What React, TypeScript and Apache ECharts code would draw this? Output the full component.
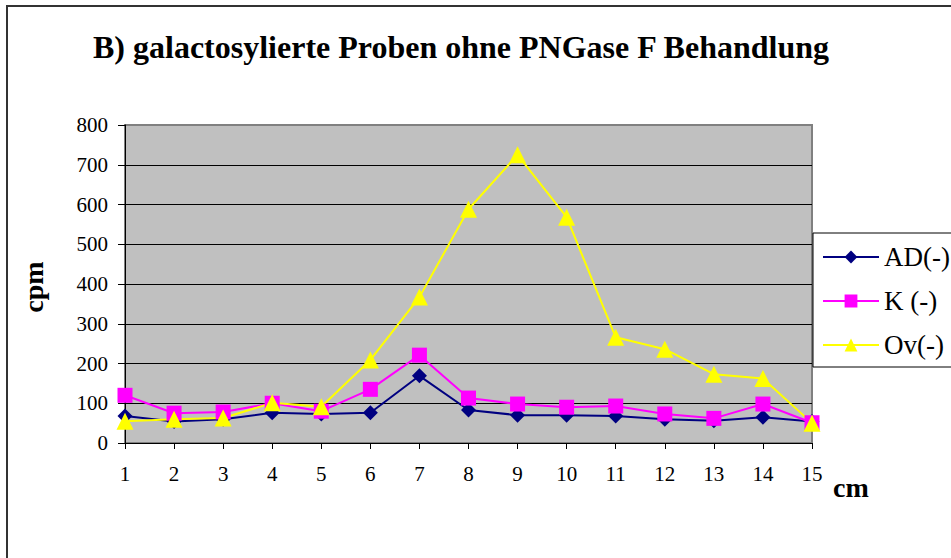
import React, { useEffect, useRef } from "react";
import * as echarts from "echarts";

const categories = ["1", "2", "3", "4", "5", "6", "7", "8", "9", "10", "11", "12", "13", "14", "15"];
const adValues = [68, 54, 60, 76, 73, 76, 169, 83, 70, 70, 68, 60, 56, 65, 54];
const kValues = [120, 75, 78, 100, 80, 135, 221, 113, 98, 90, 93, 73, 62, 98, 51];
const ovValues = [55, 60, 63, 101, 91, 209, 367, 588, 725, 568, 266, 236, 173, 162, 50];
const titleText = "B) galactosylierte Proben ohne PNGase F Behandlung";
const yName = "cpm";
const xName = "cm";

const FONT = "Liberation Serif";

export default function App() {
  const ref = useRef<HTMLDivElement>(null);
  useEffect(() => {
    if (!ref.current) return;
    const chart = echarts.init(ref.current, null, { renderer: "svg" });
    const mk = (name: string, data: number[], color: string, symbol: string, size: number) => ({
      name,
      type: "line",
      data,
      symbol,
      symbolSize: size,
      showSymbol: true,
      lineStyle: { color, width: 2 },
      itemStyle: { color, borderWidth: 0 },
      emphasis: { disabled: true },
    });
    chart.setOption({
      animation: false,
      backgroundColor: "#ffffff",
      textStyle: { fontFamily: FONT },
      grid: {
        left: 125,
        top: 125,
        right: 139,
        bottom: 115,
        show: true,
        backgroundColor: "#C0C0C0",
        borderColor: "#808080",
        borderWidth: 2,
      },
      xAxis: {
        type: "category",
        data: categories,
        boundaryGap: false,
        axisLine: { lineStyle: { color: "#000", width: 1 } },
        axisTick: { show: true, length: 6, lineStyle: { color: "#000" }, alignWithLabel: true },
        axisLabel: { color: "#000", fontSize: 21, fontFamily: FONT, margin: 20 },
        splitLine: { show: false },
      },
      yAxis: {
        type: "value",
        min: 0,
        max: 800,
        interval: 100,
        axisLine: { show: true, lineStyle: { color: "#000", width: 1 } },
        axisTick: { show: true, length: 7, lineStyle: { color: "#000" } },
        axisLabel: { color: "#000", fontSize: 21, fontFamily: FONT, margin: 17 },
        splitLine: {
          show: true,
          lineStyle: {
            color: ["#000", "#000", "#000", "#000", "#000", "#000", "#000", "#000", "#808080"],
            width: 1,
          },
        },
      },
      legend: {
        orient: "vertical",
        left: 813,
        top: 233,
        padding: [9, 12, 7, 9],
        itemWidth: 56,
        itemHeight: 16,
        itemGap: 14,
        borderColor: "#000",
        borderWidth: 1,
        backgroundColor: "#fff",
        textStyle: { fontSize: 27, color: "#000", fontFamily: FONT, lineHeight: 30 },
        data: ["AD(-)", "K (-)", "Ov(-)"],
      },
      graphic: [
        {
          type: "rect",
          shape: { x: 7, y: 6, width: 1000, height: 1000 },
          style: { fill: "none", stroke: "#333", lineWidth: 2 },
          z: -10,
          silent: true,
        },
        {
          type: "text",
          x: 461,
          y: 47,
          style: {
            text: titleText,
            fontSize: 32,
            fontWeight: "bold",
            fontFamily: FONT,
            fill: "#000",
            align: "center",
            verticalAlign: "middle",
          },
        },
        {
          type: "text",
          x: 33,
          y: 287,
          rotation: Math.PI / 2,
          style: {
            text: yName,
            fontSize: 28,
            fontWeight: "bold",
            fontFamily: FONT,
            fill: "#000",
            align: "center",
            verticalAlign: "middle",
          },
        },
        {
          type: "text",
          x: 833,
          y: 487,
          style: {
            text: xName,
            fontSize: 28,
            fontWeight: "bold",
            fontFamily: FONT,
            fill: "#000",
            align: "left",
            verticalAlign: "middle",
          },
        },
      ],
      series: [
        mk("AD(-)", adValues, "#000080", "diamond", 15),
        mk("K (-)", kValues, "#FF00FF", "rect", 15),
        mk("Ov(-)", ovValues, "#FFFF00", "triangle", 17),
      ],
    });
    return () => chart.dispose();
  }, []);
  return (
    <div
      ref={ref}
      style={{ position: "fixed", left: 0, top: 0, width: 951, height: 558, background: "#fff" }}
    />
  );
}
